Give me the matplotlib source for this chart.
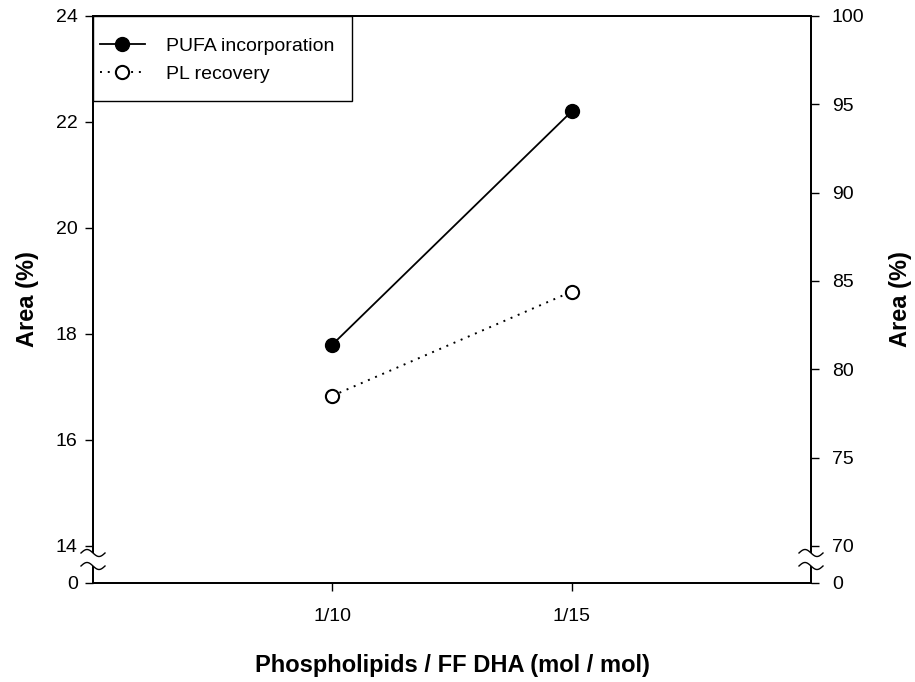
import matplotlib
matplotlib.use('Agg')
import matplotlib.pyplot as plt
import numpy as np
from matplotlib.patches import Rectangle, Polygon
from matplotlib.lines import Line2D

plt.rcParams['font.family'] = ['Liberation Sans', 'DejaVu Sans']

# ---- data ----
categories = ['1/10', '1/15']
pufa_incorporation = [17.8, 22.2]
pl_recovery = [78.5, 84.4]
left_ticks = [14, 16, 18, 20, 22, 24]
right_ticks = [70, 75, 80, 85, 90, 95, 100]
left_break_label = '0'
right_break_label = '0'

W, H = 915, 682
fig = plt.figure(figsize=(W / 100, H / 100), dpi=100)
L, R, T, B = 93, 811, 16, 583
ax = fig.add_axes([L / W, (H - B) / H, (R - L) / W, (B - T) / H])
ax2 = ax.twinx()

x = np.arange(1, len(categories) + 1)

# broken-axis: bottom "0" sits a short gap below the lowest tick
left_lo = 14 - 37 / 53.0
right_lo = 70 - 37 / (530 / 30.0)
ax.set_ylim(left_lo, 24)
ax2.set_ylim(right_lo, 100)
ax.set_xlim(0, 3)

ax.plot(x, pufa_incorporation, color='black', lw=1.3, marker='o', ms=10,
        mfc='black', mec='black', zorder=5)
ax2.plot(x, pl_recovery, color='black', lw=1.4, ls=(0, (1, 3)), marker='o', ms=9.5,
         mfc='white', mec='black', mew=1.5, zorder=5)

ax.set_xticks(x, categories)
ax.set_yticks([left_lo] + left_ticks, [left_break_label] + [str(t) for t in left_ticks])
ax2.set_yticks([right_lo] + right_ticks, [right_break_label] + [str(t) for t in right_ticks])

for a in (ax, ax2):
    a.tick_params(direction='out', length=6, width=1.0, labelsize=14, pad=5, colors='black')
    for s in a.spines.values():
        s.set_linewidth(1.3)
        s.set_color('black')
ax.tick_params(axis='x', pad=12)
ax2.tick_params(axis='y', pad=9)

ax.set_xlabel('Phospholipids / FF DHA (mol / mol)', fontsize=17, fontweight='bold', labelpad=21)
ax.set_ylabel('Area (%)', fontsize=17, fontweight='bold', labelpad=12)
ax2.set_ylabel('Area (%)', fontsize=17, fontweight='bold', labelpad=18)

# axis break marks on both spines
aw, ah = R - L, B - T
def break_marks(xc):
    t = np.linspace(0, 1, 40)
    dxp = -12 + 24 * t
    amp = 3.5
    y1p = (583 - 553) + amp * np.sin(2 * np.pi * t)
    y2p = (583 - 566) + amp * np.sin(2 * np.pi * t)
    xs = xc + dxp / aw
    poly = np.vstack([np.column_stack([xs, y1p / ah]),
                      np.column_stack([xs[::-1], y2p[::-1] / ah])])
    ax2.add_patch(Polygon(poly, closed=True, transform=ax2.transAxes, fc='white', ec='none',
                          clip_on=False, zorder=10))
    ax2.plot(xs, y1p / ah, color='black', lw=1.0, transform=ax2.transAxes, clip_on=False, zorder=11)
    ax2.plot(xs, y2p / ah, color='black', lw=1.0, transform=ax2.transAxes, clip_on=False, zorder=11)

break_marks(0.0)
break_marks(1.0)

# legend
h1 = Line2D([], [], color='black', lw=1.3, marker='o', ms=10, mfc='black', mec='black')
h2 = Line2D([], [], color='black', lw=1.4, ls=(0, (1, 3)), marker='o', ms=9.5, mfc='white',
            mec='black', mew=1.5)
ax2.add_patch(Rectangle((0, (583 - 101) / ah), (352 - 93) / aw, 1 - (583 - 101) / ah,
                        transform=ax2.transAxes, fc='white', ec='black', lw=1.0, zorder=8,
                        clip_on=False))
leg = ax2.legend([h1, h2], ['PUFA incorporation', 'PL recovery'], loc='upper left',
                 bbox_to_anchor=((100 - 93) / aw, (583 - 37) / ah), frameon=False,
                 fontsize=14, borderpad=0, handlelength=2.3, handletextpad=1.1,
                 labelspacing=0.55, borderaxespad=0)
leg.set_zorder(9)

fig.savefig('out.png', dpi=100)
